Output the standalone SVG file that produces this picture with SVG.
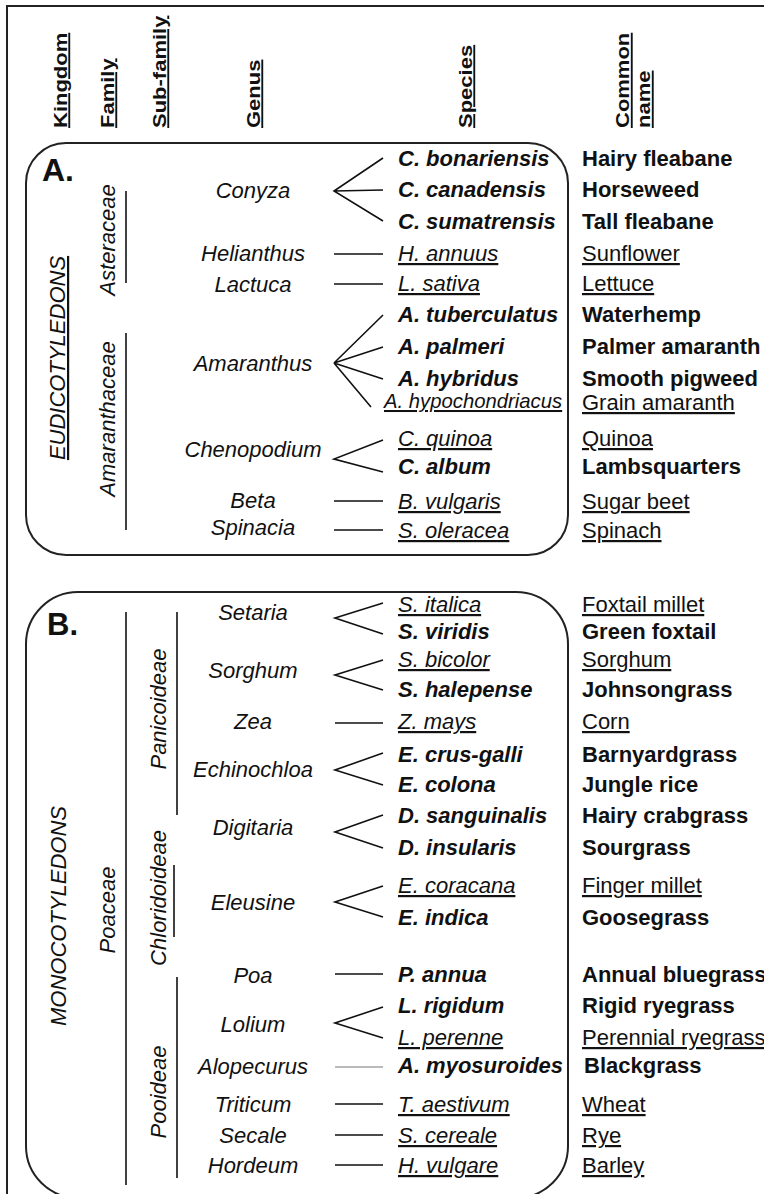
<svg xmlns="http://www.w3.org/2000/svg" width="764" height="1194" viewBox="0 0 764 1194">
<style>
text{font-family:"Liberation Sans",Arial,sans-serif;font-size:22px;fill:#111}
.bi{font-weight:bold;font-style:italic}
.iu{font-style:italic;text-decoration:underline}
.b{font-weight:bold}
.u{text-decoration:underline}
.g{font-style:italic;text-anchor:middle}
.r{font-style:italic;text-anchor:middle}
.hd{font-weight:bold;text-decoration:underline}
.lbl{font-weight:bold;font-size:32px}
.ln{stroke:#111;stroke-width:1.6;fill:none}
.frame{stroke:#222;stroke-width:2;fill:none}
</style>
<rect width="764" height="1194" fill="#fff"/>
<rect class="frame" x="7" y="6" width="800" height="1220"/>
<g id="headers">
<text class="hd" transform="translate(66.5,128) scale(0.85,1) rotate(-90)">Kingdom</text>
<text class="hd" transform="translate(113.5,128) scale(0.85,1) rotate(-90)">Family</text>
<text class="hd" transform="translate(165.5,128) scale(0.85,1) rotate(-90)">Sub-family</text>
<text class="hd" transform="translate(259.5,128) scale(0.85,1) rotate(-90)">Genus</text>
<text class="hd" transform="translate(471.5,128) scale(0.85,1) rotate(-90)">Species</text>
<text class="hd" transform="translate(629,128) scale(0.85,1) rotate(-90)">Common</text>
<text class="hd" transform="translate(650,128) scale(0.85,1) rotate(-90)">name</text>
</g>
<g id="panel-A">
<rect class="frame" x="26" y="143" width="542" height="412" rx="40"/>
<text class="lbl" x="42" y="181">A.</text>
<text class="r" style="text-decoration:underline" transform="translate(65,358) rotate(-90)">EUDICOTYLEDONS</text>
<text class="r" transform="translate(115,240) rotate(-90)">Asteraceae</text>
<text class="r" transform="translate(115,419) rotate(-90)">Amaranthaceae</text>
<line class="ln" x1="126" y1="191" x2="126" y2="283"/>
<line class="ln" x1="126" y1="333" x2="126" y2="530"/>
</g>
<g id="panel-B">
<rect class="frame" x="26" y="592" width="542" height="606" rx="52"/>
<text class="lbl" x="47" y="635" style="font-size:31px">B.</text>
<text class="r" transform="translate(66,916) rotate(-90)">MONOCOTYLEDONS</text>
<text class="r" transform="translate(115,910) rotate(-90)">Poaceae</text>
<text class="r" transform="translate(166,709) rotate(-90)">Panicoideae</text>
<text class="r" transform="translate(166,898) rotate(-90)">Chloridoideae</text>
<text class="r" transform="translate(166,1092) rotate(-90)">Pooideae</text>
<line class="ln" x1="126" y1="612" x2="126" y2="1185"/>
<line class="ln" x1="177" y1="612" x2="177" y2="815"/>
<line class="ln" x1="174" y1="865" x2="174" y2="937"/>
<line class="ln" x1="177" y1="977" x2="177" y2="1178"/>
</g>
<g id="genera">
<text class="g" x="253" y="198">Conyza</text>
<text class="g" x="253" y="261">Helianthus</text>
<text class="g" x="253" y="292">Lactuca</text>
<text class="g" x="253" y="371">Amaranthus</text>
<text class="g" x="253" y="457">Chenopodium</text>
<text class="g" x="253" y="508">Beta</text>
<text class="g" x="253" y="535">Spinacia</text>
<text class="g" x="253" y="620">Setaria</text>
<text class="g" x="253" y="678">Sorghum</text>
<text class="g" x="253" y="729">Zea</text>
<text class="g" x="253" y="777">Echinochloa</text>
<text class="g" x="253" y="835">Digitaria</text>
<text class="g" x="253" y="910">Eleusine</text>
<text class="g" x="253" y="983">Poa</text>
<text class="g" x="253" y="1032">Lolium</text>
<text class="g" x="253" y="1074">Alopecurus</text>
<text class="g" x="253" y="1112">Triticum</text>
<text class="g" x="253" y="1143">Secale</text>
<text class="g" x="253" y="1173">Hordeum</text>
</g>
<g id="connectors">
<path class="ln" d="M383 158 L334 191 L383 221 M334 191 L383 190"/>
<path class="ln" d="M334 254 H383 M334 284 H383"/>
<path class="ln" d="M383 315 L334 363 L383 347 M334 363 L383 379 M334 363 L371 407"/>
<path class="ln" d="M383 440 L334 459 L383 472"/>
<path class="ln" d="M334 501 H383 M334 530 H383"/>
<path class="ln" d="M383 603 L335 618 L383 634"/>
<path class="ln" d="M383 660 L335 675 L383 690"/>
<path class="ln" d="M335 723 H383"/>
<path class="ln" d="M383 753 L335 770 L383 785"/>
<path class="ln" d="M383 815 L335 832 L383 848"/>
<path class="ln" d="M383 886 L335 902 L383 917"/>
<path class="ln" d="M335 974 H383"/>
<path class="ln" d="M383 1007 L335 1023 L383 1038"/>
<path d="M335 1067 H383" stroke="#777" stroke-width="1.1" fill="none"/>
<path class="ln" d="M335 1104 H383 M335 1135 H383 M335 1165 H383"/>
</g>
<g id="species">
<text class="bi" x="398" y="166">C. bonariensis</text>
<text class="bi" x="398" y="197">C. canadensis</text>
<text class="bi" x="398" y="229">C. sumatrensis</text>
<text class="iu" x="398" y="261">H. annuus</text>
<text class="iu" x="398" y="291">L. sativa</text>
<text class="bi" x="398" y="322">A. tuberculatus</text>
<text class="bi" x="398" y="354">A. palmeri</text>
<text class="bi" x="398" y="386">A. hybridus</text>
<text class="iu" x="384" y="408" style="font-size:20.3px">A. hypochondriacus</text>
<text class="iu" x="398" y="446">C. quinoa</text>
<text class="bi" x="398" y="474">C. album</text>
<text class="iu" x="398" y="509">B. vulgaris</text>
<text class="iu" x="398" y="538">S. oleracea</text>
<text class="iu" x="398" y="612">S. italica</text>
<text class="bi" x="398" y="639">S. viridis</text>
<text class="iu" x="398" y="667">S. bicolor</text>
<text class="bi" x="398" y="697">S. halepense</text>
<text class="iu" x="398" y="729">Z. mays</text>
<text class="bi" x="398" y="762">E. crus-galli</text>
<text class="bi" x="398" y="792">E. colona</text>
<text class="bi" x="398" y="823">D. sanguinalis</text>
<text class="bi" x="398" y="855">D. insularis</text>
<text class="iu" x="398" y="893">E. coracana</text>
<text class="bi" x="398" y="925">E. indica</text>
<text class="bi" x="398" y="982">P. annua</text>
<text class="bi" x="398" y="1013">L. rigidum</text>
<text class="iu" x="398" y="1045">L. perenne</text>
<text class="bi" x="398" y="1073">A. myosuroides</text>
<text class="iu" x="398" y="1112">T. aestivum</text>
<text class="iu" x="398" y="1143">S. cereale</text>
<text class="iu" x="398" y="1173">H. vulgare</text>
</g>
<g id="common-names">
<text class="b" x="582" y="166">Hairy fleabane</text>
<text class="b" x="582" y="197">Horseweed</text>
<text class="b" x="582" y="229">Tall fleabane</text>
<text class="u" x="582" y="261">Sunflower</text>
<text class="u" x="582" y="291">Lettuce</text>
<text class="b" x="582" y="322">Waterhemp</text>
<text class="b" x="582" y="354">Palmer amaranth</text>
<text class="b" x="582" y="386">Smooth pigweed</text>
<text class="u" x="582" y="410">Grain amaranth</text>
<text class="u" x="582" y="446">Quinoa</text>
<text class="b" x="582" y="474">Lambsquarters</text>
<text class="u" x="582" y="509">Sugar beet</text>
<text class="u" x="582" y="538">Spinach</text>
<text class="u" x="582" y="612">Foxtail millet</text>
<text class="b" x="582" y="639">Green foxtail</text>
<text class="u" x="582" y="667">Sorghum</text>
<text class="b" x="582" y="697">Johnsongrass</text>
<text class="u" x="582" y="729">Corn</text>
<text class="b" x="582" y="762">Barnyardgrass</text>
<text class="b" x="582" y="792">Jungle rice</text>
<text class="b" x="582" y="823">Hairy crabgrass</text>
<text class="b" x="582" y="855">Sourgrass</text>
<text class="u" x="582" y="893">Finger millet</text>
<text class="b" x="582" y="925">Goosegrass</text>
<text class="b" x="582" y="982">Annual bluegrass</text>
<text class="b" x="582" y="1013">Rigid ryegrass</text>
<text class="u" x="582" y="1045">Perennial ryegrass</text>
<text class="b" x="584" y="1073">Blackgrass</text>
<text class="u" x="582" y="1112">Wheat</text>
<text class="u" x="582" y="1143">Rye</text>
<text class="u" x="582" y="1173">Barley</text>
</g>
</svg>
